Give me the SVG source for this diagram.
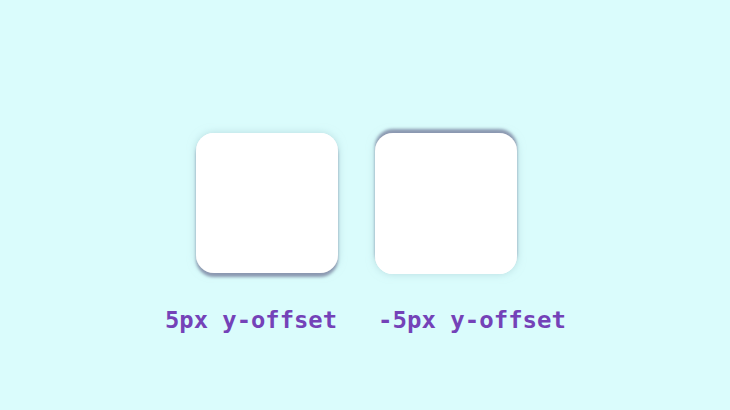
<svg xmlns="http://www.w3.org/2000/svg" width="730" height="410" viewBox="0 0 730 410">
<style>
.card{fill:#ffffff}
.lbl{font-family:"DejaVu Sans Mono","Liberation Mono",monospace;font-weight:bold;font-size:23px;fill:#7442b8}
</style>
<defs>
<filter id="down" x="-20%" y="-20%" width="140%" height="140%">
<feDropShadow dx="0" dy="0" stdDeviation="4" flood-color="#9fc4cc" flood-opacity="0.6" result="halo"/>
<feDropShadow in="SourceGraphic" dx="0" dy="4" stdDeviation="1.5" flood-color="#8590aa" flood-opacity="0.9" result="s"/>
<feMerge><feMergeNode in="halo"/><feMergeNode in="s"/></feMerge>
</filter>
<filter id="up" x="-20%" y="-20%" width="140%" height="140%">
<feDropShadow dx="0" dy="0" stdDeviation="4" flood-color="#9fc4cc" flood-opacity="0.6" result="halo"/>
<feDropShadow in="SourceGraphic" dx="0" dy="-4" stdDeviation="1.5" flood-color="#8590aa" flood-opacity="0.9" result="s"/>
<feMerge><feMergeNode in="halo"/><feMergeNode in="s"/></feMerge>
</filter>
</defs>
<rect width="730" height="410" fill="#dafcfc"/>
<g id="card-down">
<rect class="card" x="196" y="133" width="142" height="140" rx="18" filter="url(#down)"/>
</g>
<g id="card-up">
<rect class="card" x="375" y="133" width="142" height="141" rx="18" filter="url(#up)"/>
</g>
<g id="labels">
<text class="lbl" x="165" y="328" textLength="172" lengthAdjust="spacingAndGlyphs">5px y-offset</text>
<text class="lbl" x="378" y="328" textLength="188" lengthAdjust="spacingAndGlyphs">-5px y-offset</text>
</g>
</svg>
